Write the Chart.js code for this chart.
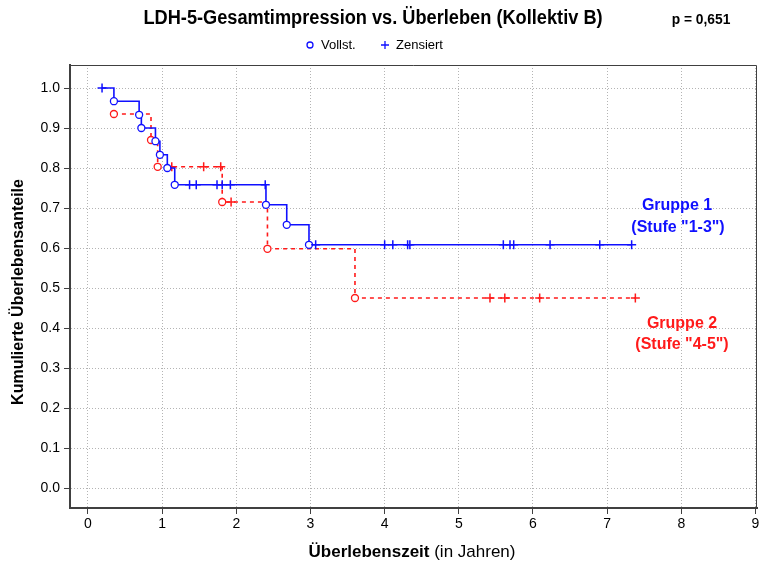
<!DOCTYPE html>
<html>
<head>
<meta charset="utf-8">
<script src="https://cdn.jsdelivr.net/npm/chart.js@4/dist/chart.umd.min.js"></script>
<style>
  body { margin: 0; background: #fff; }
  #km { display: block; }
</style>
</head>
<body>
<canvas id="km" width="763" height="565"></canvas>
<script>
const xTicks = [0, 1, 2, 3, 4, 5, 6, 7, 8, 9];
const yTicks = [0, 0.1, 0.2, 0.3, 0.4, 0.5, 0.6, 0.7, 0.8, 0.9, 1.0];

// Gruppe 1 (Stufe "1-3"): event times and survival after each event
const g1Start = [0.19, 1.0];
const g1EventT = [0.35, 0.69, 0.72, 0.91, 0.97, 1.07, 1.17, 2.40, 2.68, 2.98];
const g1EventS = [0.967, 0.933, 0.900, 0.867, 0.833, 0.800, 0.758, 0.708, 0.658, 0.608];
const g1CensT = [0.19, 1.37, 1.46, 1.74, 1.81, 1.92, 2.39, 3.07, 4.00, 4.11, 4.31, 4.34, 5.60, 5.69, 5.74, 6.23, 6.90, 7.33];

// Gruppe 2 (Stufe "4-5")
const g2Start = [0.35, 0.935];
const g2EventT = [0.85, 0.94, 1.81, 2.42, 3.60];
const g2EventS = [0.870, 0.803, 0.715, 0.598, 0.475];
const g2CensT = [1.13, 1.56, 1.79, 1.93, 5.42, 5.62, 6.09, 7.38];

const BLUE = '#1010ff';
const RED = '#ff1a1a';
const FONT = '"Liberation Sans", Arial, sans-serif';

// survival level at time t (step function)
function levelAt(start, evT, evS, t) {
  let s = start[1];
  evT.forEach((et, i) => { if (et <= t) s = evS[i]; });
  return s;
}

function stepLine(start, evT, evS, cens) {
  const pts = [{ x: start[0], y: start[1] }];
  evT.forEach((t, i) => pts.push({ x: t, y: evS[i] }));
  const last = Math.max(...cens);
  pts.push({ x: last, y: levelAt(start, evT, evS, last) });
  return pts;
}

function censPoints(start, evT, evS, cens) {
  return cens.map(t => ({ x: t, y: levelAt(start, evT, evS, t) }));
}

function eventPoints(start, evT, evS, first) {
  const pts = evT.map((t, i) => ({ x: t, y: evS[i] }));
  if (first) pts.unshift({ x: start[0], y: start[1] });
  return pts;
}

// text squeezed horizontally, centred on x
function narrowText(ctx, text, x, y, font, sx) {
  ctx.save();
  ctx.font = font;
  ctx.textAlign = 'center';
  ctx.translate(x, y);
  ctx.scale(sx, 1);
  ctx.fillText(text, 0, 0);
  ctx.restore();
}

const decorations = {
  id: 'decorations',
  afterDraw(chart) {
    const { ctx, chartArea: a } = chart;
    ctx.save();
    // frame
    ctx.strokeStyle = '#404040';
    ctx.lineWidth = 1;
    ctx.beginPath();
    ctx.moveTo(a.left, a.top + 0.5);
    ctx.lineTo(a.right - 0.5, a.top + 0.5);
    ctx.lineTo(a.right - 0.5, a.bottom);
    ctx.stroke();

    ctx.textBaseline = 'middle';
    ctx.fillStyle = '#000';
    narrowText(ctx, 'LDH-5-Gesamtimpression vs. Überleben (Kollektiv B)', 373, 18, 'bold 20px ' + FONT, 0.91);
    narrowText(ctx, 'p = 0,651', 701, 20, 'bold 15px ' + FONT, 0.92);

    // legend
    ctx.textAlign = 'left';
    ctx.font = '13px ' + FONT;
    ctx.fillText('Vollst.', 321, 45);
    ctx.fillText('Zensiert', 396, 45);
    ctx.strokeStyle = BLUE;
    ctx.lineWidth = 1.3;
    ctx.beginPath();
    ctx.arc(310, 45, 3, 0, Math.PI * 2);
    ctx.stroke();
    ctx.beginPath();
    ctx.moveTo(381, 45); ctx.lineTo(389, 45);
    ctx.moveTo(385, 41); ctx.lineTo(385, 49);
    ctx.stroke();

    // group labels
    ctx.textAlign = 'center';
    ctx.font = 'bold 16px ' + FONT;
    ctx.fillStyle = BLUE;
    ctx.fillText('Gruppe 1', 677, 206);
    ctx.fillText('(Stufe "1-3")', 678, 228);
    ctx.fillStyle = RED;
    ctx.fillText('Gruppe 2', 682, 324);
    ctx.fillText('(Stufe "4-5")', 682, 345);

    // axis titles
    ctx.fillStyle = '#000';
    const t1 = 'Überlebenszeit';
    const t2 = ' (in Jahren)';
    ctx.font = '17px ' + FONT;
    const w2 = ctx.measureText(t2).width;
    ctx.font = 'bold 17px ' + FONT;
    const w1 = ctx.measureText(t1).width;
    const x0 = 412 - (w1 + w2) / 2;
    ctx.textAlign = 'left';
    ctx.fillText(t1, x0, 552);
    ctx.font = '17px ' + FONT;
    ctx.fillText(t2, x0 + w1, 552);

    ctx.translate(19, 292);
    ctx.rotate(-Math.PI / 2);
    ctx.textAlign = 'center';
    ctx.font = 'bold 16px ' + FONT;
    ctx.fillText('Kumulierte Überlebensanteile', 0, 0);
    ctx.restore();
  }
};

const gridOpts = {
  color: '#b4b4b4',
  lineWidth: 1,
  drawTicks: true,
  tickLength: 6,
  tickColor: '#404040',
  tickWidth: 1
};

new Chart(document.getElementById('km'), {
  type: 'scatter',
  data: {
    datasets: [
      {
        data: censPoints(g1Start, g1EventT, g1EventS, g1CensT),
        pointStyle: 'cross', pointRadius: 4.5, borderColor: BLUE, borderWidth: 1.5,
        showLine: false, order: 0
      },
      {
        data: eventPoints(g1Start, g1EventT, g1EventS, false),
        pointStyle: 'circle', pointRadius: 3.5, borderColor: BLUE, backgroundColor: '#fff',
        borderWidth: 1.3, showLine: false, order: 0
      },
      {
        data: stepLine(g1Start, g1EventT, g1EventS, g1CensT),
        showLine: true, stepped: true, borderColor: BLUE, borderWidth: 1.6,
        pointRadius: 0, order: 1
      },
      {
        data: censPoints(g2Start, g2EventT, g2EventS, g2CensT),
        pointStyle: 'cross', pointRadius: 4.5, borderColor: RED, borderWidth: 1.5,
        showLine: false, order: 2
      },
      {
        data: eventPoints(g2Start, g2EventT, g2EventS, true),
        pointStyle: 'circle', pointRadius: 3.5, borderColor: RED, backgroundColor: '#fff',
        borderWidth: 1.3, showLine: false, order: 2
      },
      {
        data: stepLine(g2Start, g2EventT, g2EventS, g2CensT),
        showLine: true, stepped: true, borderColor: RED, borderWidth: 1.6,
        borderDash: [4, 4], pointRadius: 0, order: 3
      }
    ]
  },
  options: {
    responsive: false,
    animation: false,
    events: [],
    layout: { padding: { top: 65, right: 3, left: 0, bottom: 0 } },
    plugins: { legend: { display: false }, tooltip: { enabled: false } },
    scales: {
      x: {
        type: 'linear',
        min: -0.242,
        max: 9.02,
        afterBuildTicks: s => { s.ticks = xTicks.map(v => ({ value: v })); },
        afterFit: s => { s.height = 57; },
        grid: gridOpts,
        border: { color: '#404040', width: 2, dash: [1, 2] },
        ticks: {
          color: '#000',
          font: { family: FONT, size: 14 },
          padding: 2,
          callback: v => String(v)
        }
      },
      y: {
        min: -0.05,
        max: 1.0575,
        afterBuildTicks: s => { s.ticks = yTicks.map(v => ({ value: v })); },
        afterFit: s => { s.width = 70; },
        grid: gridOpts,
        border: { color: '#404040', width: 2, dash: [1, 2] },
        ticks: {
          color: '#000',
          font: { family: FONT, size: 14 },
          padding: 4,
          callback: v => v.toFixed(1)
        }
      }
    }
  },
  plugins: [decorations]
});
</script>
</body>
</html>
